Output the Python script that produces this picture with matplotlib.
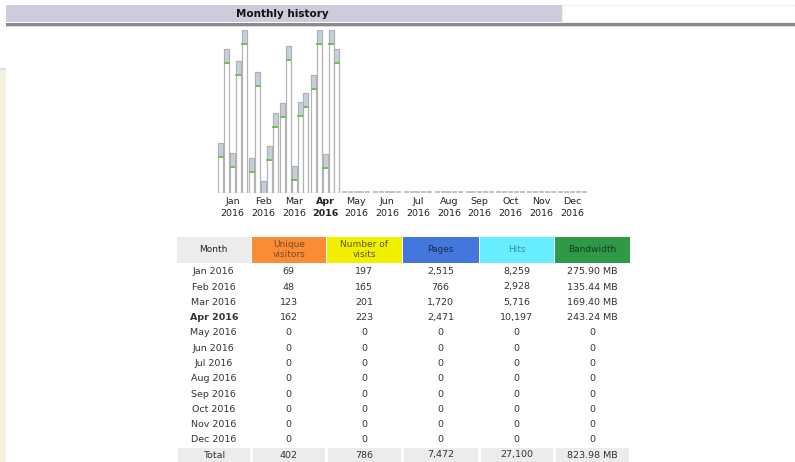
import matplotlib
matplotlib.use("Agg")
import matplotlib.pyplot as plt
from matplotlib.patches import Rectangle

# ---------------------------------------------------------------------------
# Data
# ---------------------------------------------------------------------------
months = ["Jan", "Feb", "Mar", "Apr", "May", "Jun",
          "Jul", "Aug", "Sep", "Oct", "Nov", "Dec"]
year = "2016"
current_month = "Apr"

unique_visitors = [69, 48, 123, 162, 0, 0, 0, 0, 0, 0, 0, 0]
visits = [197, 165, 201, 223, 0, 0, 0, 0, 0, 0, 0, 0]
pages = [2515, 766, 1720, 2471, 0, 0, 0, 0, 0, 0, 0, 0]
hits = [8259, 2928, 5716, 10197, 0, 0, 0, 0, 0, 0, 0, 0]
bandwidth_mb = [275.90, 135.44, 169.40, 243.24, 0, 0, 0, 0, 0, 0, 0, 0]

headers = ["Month", "Unique\nvisitors", "Number of\nvisits", "Pages", "Hits", "Bandwidth"]
header_bg = ["#ececec", "#fa8c35", "#f2f000", "#4477dd", "#66eeff", "#2e9a48"]
header_fg = ["#222222", "#7a4a1e", "#55550f", "#1a2a55", "#3a8fa0", "#163a1e"]

W, H = 795, 462
fig = plt.figure(figsize=(W / 100, H / 100), dpi=100)

# full-figure axes in pixel units for the page furniture and the table
page = fig.add_axes([0, 0, 1, 1])
page.set_xlim(0, W)
page.set_ylim(H, 0)
page.axis("off")

# ── header bar ────────────────────────────────────────────────────────────
page.add_patch(Rectangle((6, 5), 556, 17, color="#ccccdd", lw=0))
page.add_patch(Rectangle((562, 5), W - 562, 17, facecolor="white",
                         edgecolor="#f0f0f0", lw=0.8))
page.add_patch(Rectangle((6, 22.5), W - 6, 3, color="#8a8a8a", lw=0))
page.add_patch(Rectangle((6, 25.5), W - 6, 1, color="#d8d8d8", lw=0))
page.text(282, 14, "Monthly history", ha="center", va="center",
          fontsize=7.5, fontweight="bold", color="#111111")

# left beige strip
page.add_patch(Rectangle((0, 68), 6, H - 68, color="#f4f1e1", lw=0))
page.add_patch(Rectangle((0, 68), 6, 2, color="#dcdce4", lw=0))

# ── bars ──────────────────────────────────────────────────────────────────
base_px, top_px = 193, 30
left_px, right_px = 210, 600
jan_px, pitch_px = 232.5, 30.9
bars_ax = fig.add_axes([left_px / W, (H - base_px) / H,
                        (right_px - left_px) / W, (base_px - top_px) / H])
bars_ax.set_xlim((left_px - jan_px) / pitch_px, (right_px - jan_px) / pitch_px)
bars_ax.set_ylim(0, 1)
bars_ax.axis("off")

max_v = max(max(unique_visitors), max(visits))
max_h = max(max(pages), max(hits))
max_bw = max(bandwidth_mb)
series = [(unique_visitors, max_v), (visits, max_v), (pages, max_h),
          (hits, max_h), (bandwidth_mb, max_bw)]

px = 1 / (base_px - top_px)
bar_w = 5 / pitch_px
bar_step = 5.8 / pitch_px
cap = 14 * px
for j, (vals, vmax) in enumerate(series):
    xs = [i + (j - 2) * bar_step for i in range(len(months))]
    hs = [v / vmax for v in vals]
    for x, h in zip(xs, hs):
        if h <= 0:
            # empty month: AWStats still draws a 1px stub
            bars_ax.bar(x, 2 * px, width=bar_w, color="#c4c4c4", lw=0,
                        zorder=2)
            continue
        bars_ax.bar(x, h, width=bar_w, color="white", edgecolor="#b4b4b4",
                    linewidth=0.9, zorder=2)
        c = min(cap, h)
        bars_ax.bar(x, c, bottom=h - c, width=bar_w, color="#c6ceda",
                    edgecolor="#a8adb5", linewidth=0.6, zorder=3)
        if h > cap:
            bars_ax.plot([x - bar_w / 2.6, x + bar_w / 2.6], [h - c, h - c],
                         color="#6cbf4c", lw=1.3, zorder=4)

# month labels
for i, m in enumerate(months):
    cx = jan_px + i * pitch_px
    bold = "bold" if m == current_month else "normal"
    page.text(cx, 202, m, ha="center", va="center", fontsize=6.8,
              color="#222222", fontweight=bold)
    page.text(cx, 213.5, year, ha="center", va="center", fontsize=6.8,
              color="#222222", fontweight=bold)

# ── table ─────────────────────────────────────────────────────────────────
col_edges = [176.5, 251, 326.5, 402, 479, 554.5, 630]
col_cx = [(a + b) / 2 for a, b in zip(col_edges[:-1], col_edges[1:])]
hdr_top, hdr_bot = 236.5, 262.5

for k, (lbl, bg, fg) in enumerate(zip(headers, header_bg, header_fg)):
    x0, x1 = col_edges[k], col_edges[k + 1]
    page.add_patch(Rectangle((x0 + 0.5, hdr_top), x1 - x0 - 1,
                             hdr_bot - hdr_top, color=bg, lw=0))
    page.text(col_cx[k], (hdr_top + hdr_bot) / 2, lbl, ha="center",
              va="center", fontsize=6.5, color=fg, linespacing=1.05)


def fmt_int(v):
    return f"{v:,}"


def fmt_bw(v):
    return f"{v:.2f} MB" if v else "0"


row_y0, row_pitch = 271.7, 15.3
for i, m in enumerate(months):
    y = row_y0 + i * row_pitch
    bold = "bold" if m == current_month else "normal"
    cells = [f"{m} {year}", fmt_int(unique_visitors[i]), fmt_int(visits[i]),
             fmt_int(pages[i]), fmt_int(hits[i]), fmt_bw(bandwidth_mb[i])]
    for k, txt in enumerate(cells):
        page.text(col_cx[k], y, txt, ha="center", va="center", fontsize=6.8,
                  color="#333333",
                  fontweight=bold if k == 0 else "normal")

# total row
tot_top = 448
totals = ["Total", fmt_int(sum(unique_visitors)), fmt_int(sum(visits)),
          fmt_int(sum(pages)), fmt_int(sum(hits)),
          f"{sum(bandwidth_mb):.2f} MB"]
for k, txt in enumerate(totals):
    x0, x1 = col_edges[k], col_edges[k + 1]
    page.add_patch(Rectangle((x0 + 1.5, tot_top), x1 - x0 - 3, H - tot_top,
                             color="#ececec", lw=0))
    page.text(col_cx[k], 455, txt, ha="center", va="center", fontsize=6.8,
              color="#333333")

fig.savefig("out.png", dpi=100)
